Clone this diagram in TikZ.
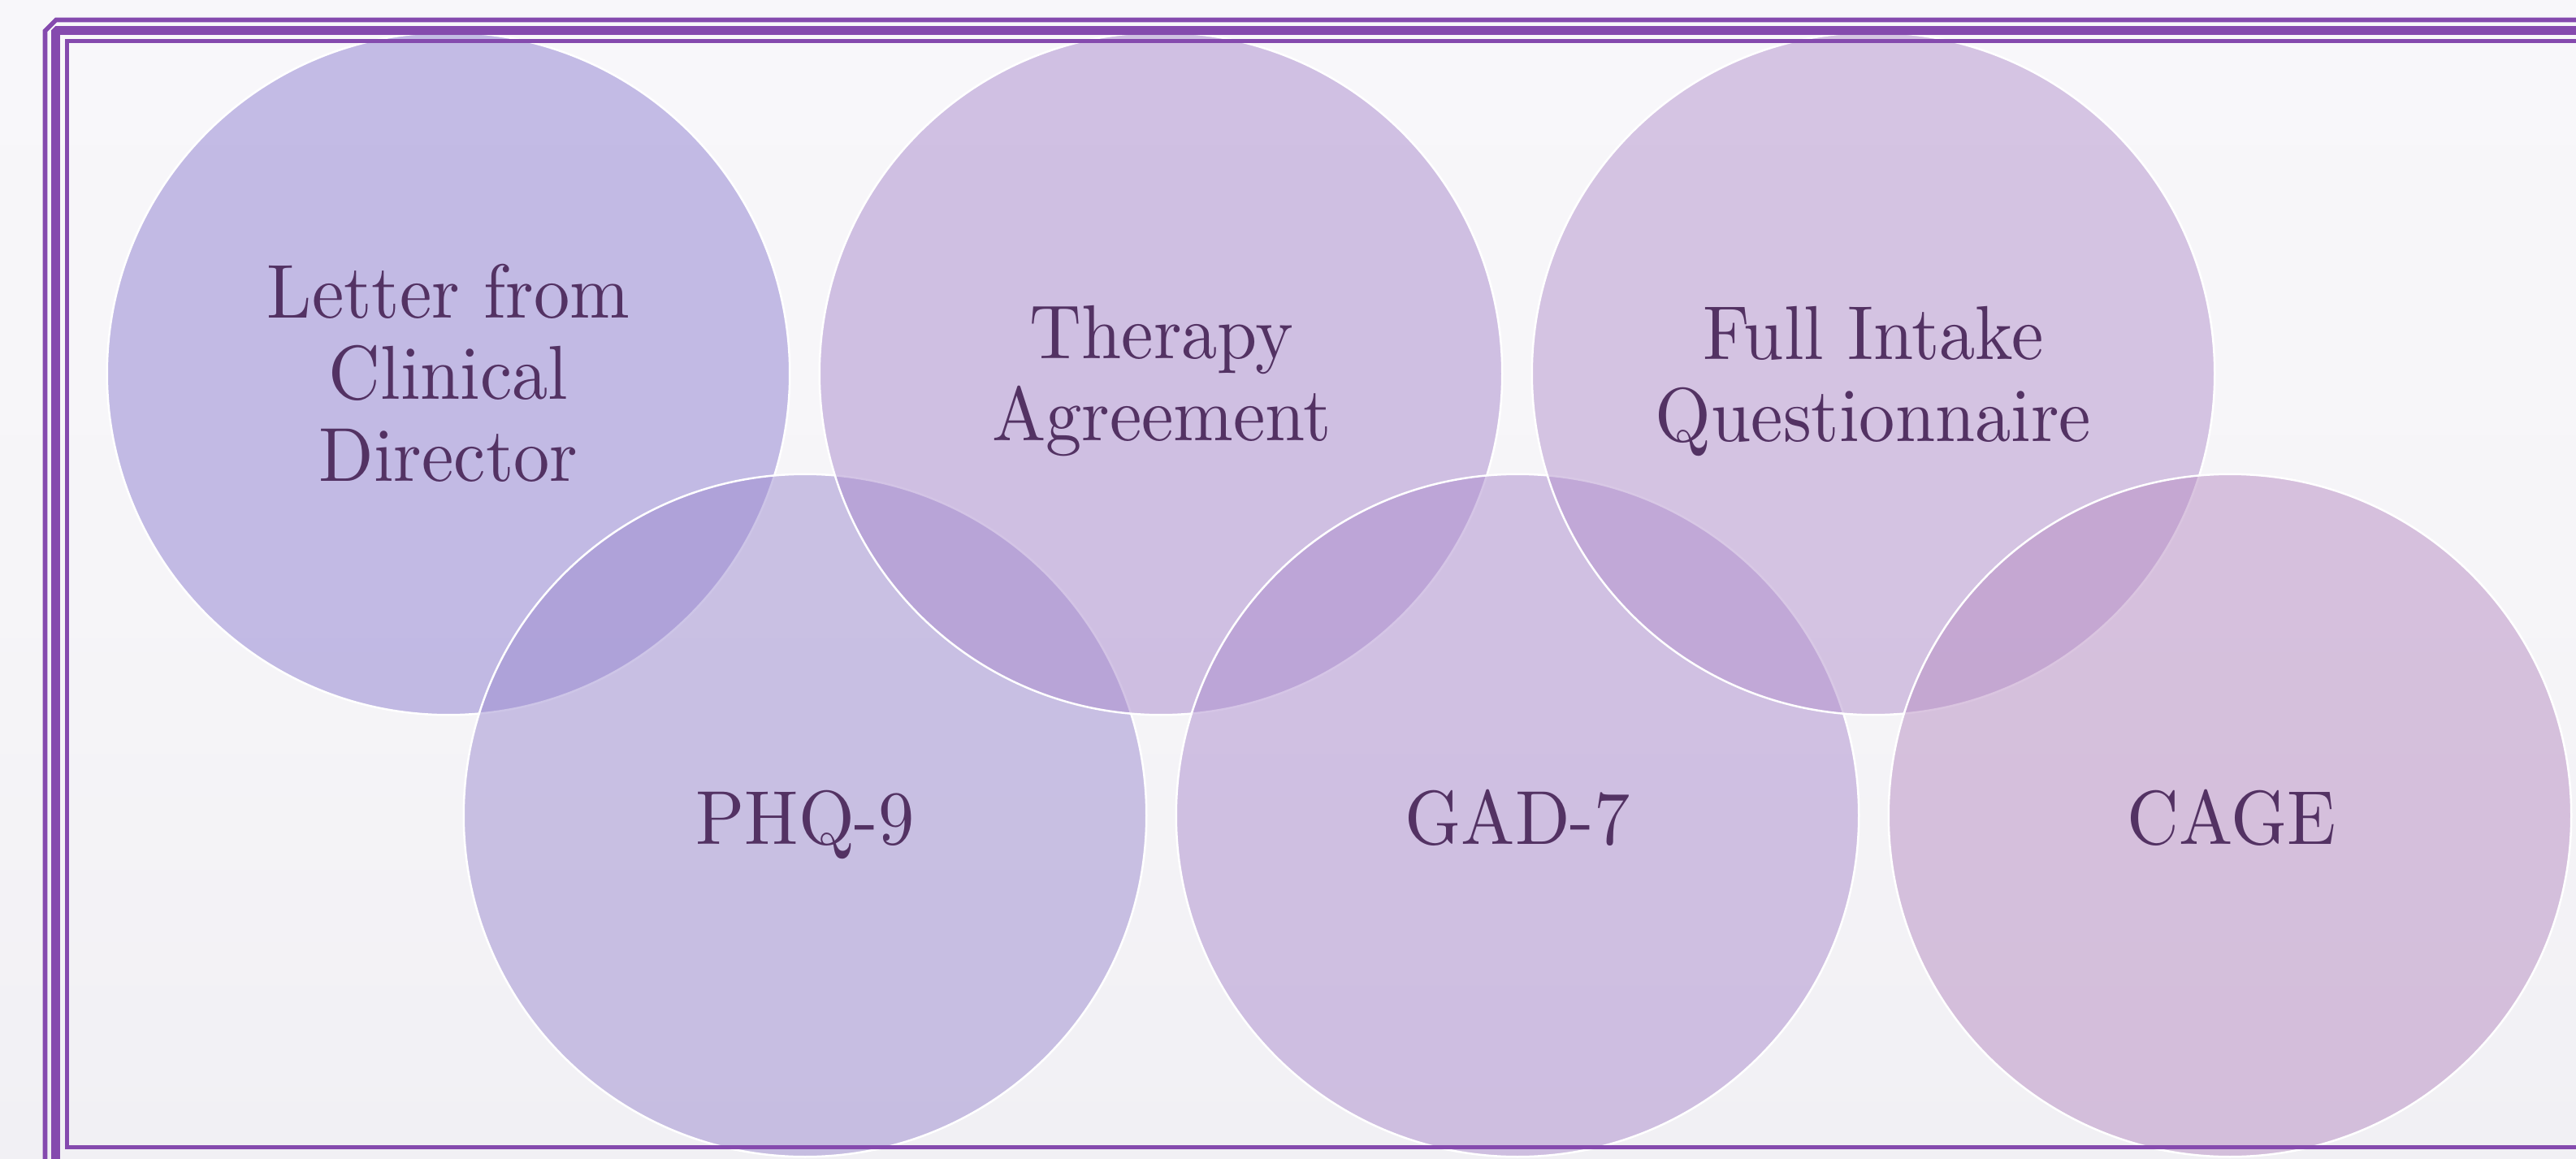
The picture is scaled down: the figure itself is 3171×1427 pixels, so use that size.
\documentclass[tikz,border=0pt]{standalone}
\usepackage{fontspec}
\newfontfamily\lblfont{lmroman10-regular}[Extension=.otf, FakeStretch=0.94]

\definecolor{pagetop}{RGB}{248,247,250}
\definecolor{pagemid}{RGB}{246,245,248}
\definecolor{pagebot}{RGB}{241,240,244}
\definecolor{framepurple}{RGB}{133,74,174}
\definecolor{inkpurple}{RGB}{83,50,99}
\definecolor{discA}{RGB}{143,128,209}
\definecolor{discB}{RGB}{157,140,208}
\definecolor{discC}{RGB}{169,138,205}
\definecolor{discD}{RGB}{172,141,206}
\definecolor{discE}{RGB}{179,146,205}
\definecolor{discF}{RGB}{183,141,195}

\tikzset{
  disc/.style={circle, minimum size=8.4cm, inner sep=0pt, draw=white,
    line width=0.025cm, fill opacity=0.5, draw opacity=1},
  lbl/.style={anchor=north, inner sep=0pt, align=center, text=inkpurple,
    font=\lblfont\fontsize{26.75pt}{28.6pt}\selectfont},
  thinrule/.style={draw=framepurple, line width=0.055cm},
  thickrule/.style={draw=framepurple, line width=0.115cm, line join=bevel}
}

\begin{document}
\begin{tikzpicture}[x=0.01cm, y=-0.01cm]
  \useasboundingbox (0,0) rectangle (3171,1427);
  \clip (0,0) rectangle (3171,1427);

  % page background
  \shade[top color=pagetop, bottom color=pagebot, middle color=pagemid]
    (0,0) rectangle (3171,1427);

  % overlapping discs, drawn in zigzag order
  \node[disc, fill=discA] (d1) at (552,460)  {};
  \node[disc, fill=discB] (d2) at (991,1004) {};
  \node[disc, fill=discC] (d3) at (1429,460) {};
  \node[disc, fill=discD] (d4) at (1868,1004) {};
  \node[disc, fill=discE] (d5) at (2306,460) {};
  \node[disc, fill=discF] (d6) at (2745,1004) {};

  % labels
  \node[lbl] (t1) at (552,324)  {Letter from\\Clinical\\Director};
  \node[lbl] (t3) at (1430,376) {Therapy\\Agreement};
  \node[lbl] (t5) at (2306,377) {Full Intake\\Questionnaire};
  \node[lbl] (t2) at (991,972)  {PHQ-9};
  \node[lbl] (t4) at (1868,971) {GAD-7};
  \node[lbl] (t6) at (2747,971) {CAGE};

  % triple frame
  \draw[thinrule] (55.5,1600) -- (55.5,38) -- (69,24.5) -- (3300,24.5);
  \draw[thickrule] (68.5,1600) -- (68.5,37.5) -- (3300,37.5);
  \draw[thinrule] (3300,50.5) -- (82.5,50.5) -- (82.5,1412.5) -- (3300,1412.5);
\end{tikzpicture}
\end{document}
